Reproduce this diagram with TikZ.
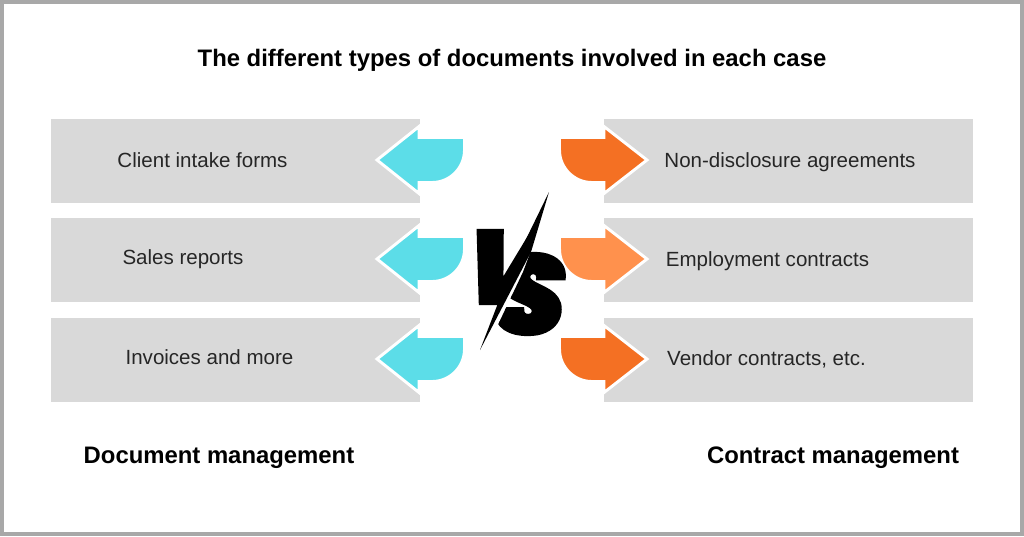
\documentclass[tikz,border=0pt]{standalone}
\usepackage{fontspec}
\setmainfont{Liberation Sans}
\newfontfamily\vsfont[UprightFont=* Black Italic,FakeBold=2.5]{Poppins}
\definecolor{boxgray}{HTML}{D9D9D9}
\definecolor{framegray}{HTML}{A8A8A8}
\definecolor{leftcyan}{HTML}{5CDDE8}
\definecolor{rightorange}{HTML}{F47023}
\definecolor{softorange}{HTML}{FF914D}
\tikzset{
	itembox/.style={shape=rectangle,fill=boxgray,minimum width=369*0.75pt,minimum height=84*0.75pt,inner sep=0pt},
	itemtext/.style={font=\fontsize{15.4}{17}\selectfont,text=black!85,inner sep=0pt},
	headtext/.style={font=\fontsize{17.9}{20}\selectfont\bfseries,inner sep=0pt},
	leftarrow/.style={fill=leftcyan,draw=white,line width=2.2pt,line join=miter},
	rightarrow/.style={fill=#1,draw=white,line width=2.2pt,line join=miter},
	vsglyph/.style={inner sep=0pt,text=black,transform shape}
}
\begin{document}
\begin{tikzpicture}[x=0.75pt,y=-0.75pt]
	
	\useasboundingbox (0,0) rectangle (1024,536);
	\fill[white] (0,0) rectangle (1024,536);
	\draw[framegray,line width=3pt] (2,2) rectangle (1022,534);
	
	\node[itembox] (l1) at (235, 161)     {};
	\node[itembox] (l2) at (235, 260)     {};
	\node[itembox] (l3) at (235, 360)     {};
	\node[itembox] (r1) at (788.5, 161)   {};
	\node[itembox] (r2) at (788.5, 260)   {};
	\node[itembox] (r3) at (788.5, 360)   {};
	
	\node[headtext] (title) at (512, 60)     {The different types of documents involved in each case};
	\node[headtext] (docs) at (219, 458)     {Document management};
	\node[headtext] (cons) at (833, 458)     {Contract management};
	
	\node[itemtext] (lt1) at (202.5, 160)     {Client intake forms};
	\node[itemtext] (lt2) at (183, 259)     {Sales reports};
	\node[itemtext] (lt3) at (209.5, 357)     {Invoices and more};
	\node[itemtext] (rt1) at (790, 162)     {Non-disclosure agreements};
	\node[itemtext] (rt2) at (767.5, 261)     {Employment contracts};
	\node[itemtext] (rt3) at (766.5, 359)     {Vendor contracts, etc.};
	
	\foreach \y in {160,259,359} {
		\path[leftarrow] (377,\y) -- (419,\y-33.5) -- (419,\y-22.5) -- (464.5,\y-22.5) -- (464.5,\y-10)
			arc[start angle=0,end angle=90,radius=32.5] -- (419,\y+22.5) -- (419,\y+33.5) -- cycle;
	}
	\foreach \y/\c in {160/rightorange,259/softorange,359/rightorange} {
		\path[rightarrow=\c] (647,\y) -- (604,\y-33.5) -- (604,\y-22.5) -- (559.5,\y-22.5) -- (559.5,\y-10)
			arc[start angle=180,end angle=90,radius=32.5] -- (604,\y+22.5) -- (604,\y+33.5) -- cycle;
	}
	
	\begin{scope}
		\clip (440,192) -- (549,192) -- (480,350) -- (440,350) -- cycle;
		\node[vsglyph,xslant=0.13,font=\vsfont\fontsize{78}{80}\selectfont] (v) at (505, 267)     {V};
	\end{scope}
	\begin{scope}
		\clip (553,192) -- (523,272) -- (486,350) -- (620,350) -- (620,192) -- cycle;
		\node[vsglyph,font=\vsfont\fontsize{84}{88}\selectfont] (s) at (530, 294)     {S};
	\end{scope}
	\fill[black] (549,192) -- (531,252) -- (480,350) -- (510,272) -- cycle;
	
\end{tikzpicture}
\end{document}
